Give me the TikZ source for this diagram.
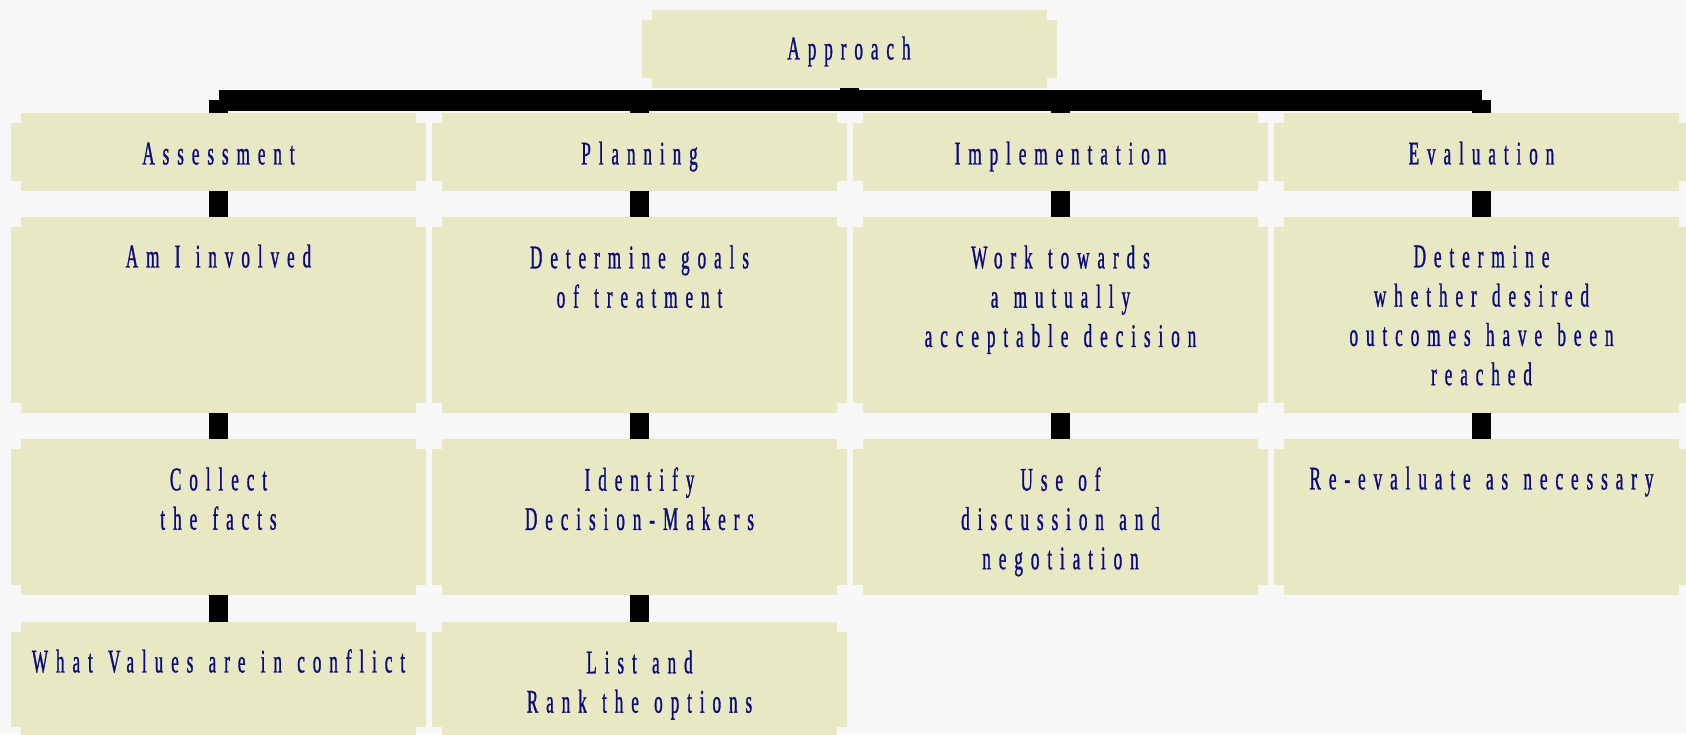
\documentclass[tikz,border=0pt]{standalone}
\usepackage{fontspec}
\newfontfamily\cfont[FakeStretch=0.52,FakeBold=0.9,LetterSpace=24,WordSpace=1.25]{Liberation Serif}
\definecolor{boxfill}{RGB}{232,232,194}
\definecolor{txtblue}{RGB}{10,10,128}
\definecolor{bgc}{RGB}{247,247,247}
\begin{document}
\begin{tikzpicture}[x=0.5pt,y=-0.5pt,
  boxnode/.style={fill=boxfill, inner sep=0pt, outer sep=0pt, minimum width=197.5pt, anchor=north},
  lbl/.style={font=\cfont\fontsize{16.5}{19.65}\selectfont, text=txtblue, inner sep=0pt, align=center, anchor=north, execute at begin node=\strut},
  stub/.style={line width=9.5pt, draw=black},
  bar/.style={line width=10.5pt, draw=black}]
\useasboundingbox (0,0) rectangle (1686,734);
\begin{scope}
\clip (0,0) rectangle (1686,734);
\fill[bgc] (0,0) rectangle (1686,734);
% boxes
\node[boxnode, minimum height=39pt] (app) at (849,10) {};
\foreach \i/\c in {1/218.5,2/639.5,3/1060.5,4/1481.5}{
  \node[boxnode, minimum height=39pt] (r1\i) at (\c,113) {};
  \node[boxnode, minimum height=98pt] (r2\i) at (\c,217) {};
  \node[boxnode, minimum height=78pt] (r3\i) at (\c,439) {};
  \coordinate (b\i) at (\c,100);
}
\foreach \i/\c in {1/218.5,2/639.5}{
  \node[boxnode, minimum height=57.5pt] (r4\i) at (\c,622) {};
}
\coordinate (bA) at (849,100);
% notched wings
\foreach \n in {app,r11,r12,r13,r14,r21,r22,r23,r24,r31,r32,r33,r34,r41,r42}{
  \fill[boxfill] ([shift={(-5pt,-5pt)}]\n.north west) rectangle ([shift={(5pt,5pt)}]\n.south east);
}
% connectors
\draw[stub] (app.south) -- (bA);
\draw[bar] (b1) -- (b4);
\foreach \i in {1,2,3,4}{
  \draw[stub] (b\i) -- (r1\i.north);
  \draw[stub] (r1\i.south) -- (r2\i.north);
  \draw[stub] (r2\i.south) -- (r3\i.north);
}
\foreach \i in {1,2}{
  \draw[stub] (r3\i.south) -- (r4\i.north);
}
% texts
\node[lbl] (tA) at (849,31.5) {Approach};
\node[lbl] (t11) at (218.5,136.5) {Assessment};
\node[lbl] (t12) at (639.5,136.5) {Planning};
\node[lbl] (t13) at (1060.5,136.5) {Implementation};
\node[lbl] (t14) at (1481.5,136.5) {Evaluation};
\node[lbl] (t21) at (218.5,239.5) {Am I involved};
\node[lbl] (t22) at (639.5,245) {Determine goals\\of treatment};
\node[lbl] (t23) at (1060.5,245) {Work towards\\a mutually\\acceptable decision};
\node[lbl] (t24) at (1481.5,245) {Determine\\whether desired\\outcomes have been\\reached};
\node[lbl] (t31) at (218.5,467) {Collect\\the facts};
\node[lbl] (t32) at (639.5,467) {Identify\\Decision-Makers};
\node[lbl] (t33) at (1060.5,467) {Use of\\discussion and\\negotiation};
\node[lbl] (t34) at (1481.5,461.5) {Re-evaluate as necessary};
\node[lbl] (t41) at (218.5,644.5) {What Values are in conflict};
\node[lbl] (t42) at (639.5,650) {List and\\Rank the options};
\end{scope}
\end{tikzpicture}
\end{document}
